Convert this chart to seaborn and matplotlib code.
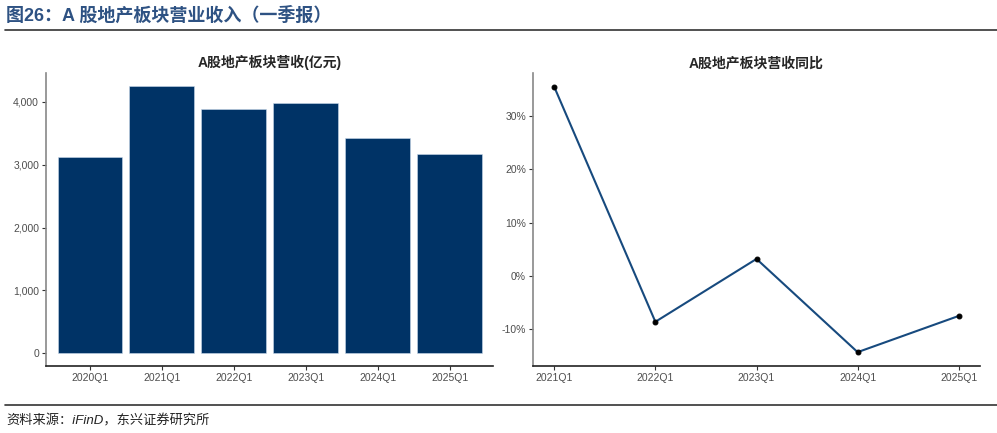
import matplotlib
matplotlib.use("Agg")
import matplotlib.pyplot as plt
import matplotlib.ticker as mticker
import seaborn as sns
import pandas as pd

# 数据
quarters = ["2020Q1", "2021Q1", "2022Q1", "2023Q1", "2024Q1", "2025Q1"]
revenue = [3123, 4255, 3883, 3990, 3426, 3171]  # 亿元
yoy_quarters = ["2021Q1", "2022Q1", "2023Q1", "2024Q1", "2025Q1"]
yoy = [35.5, -8.6, 3.2, -14.3, -7.5]  # %

sns.set_theme(style="white")
plt.rcParams['font.family'] = ['Liberation Sans', 'Noto Sans CJK SC', 'DejaVu Sans']
plt.rcParams['axes.unicode_minus'] = False

bar_color = "#003366"
line_color = "#174A7E"
tick_color = "#4D4D4D"

fig = plt.figure(figsize=(9.97, 4.33), dpi=100)

# 标题和分隔线
fig.text(0.006, 0.965, "图26：A 股地产板块营业收入（一季报）", fontsize=13, fontweight="bold",
         color="#2E5283", va="center", ha="left")
fig.add_artist(plt.Line2D([0.005, 1.0], [0.930, 0.930], color="#333333", lw=1.2))
fig.add_artist(plt.Line2D([0.005, 1.0], [0.064, 0.064], color="#333333", lw=1.2))
fig.text(0.006, 0.028, "资料来源：iFinD，东兴证券研究所", fontsize=9.5, style="italic",
         color="#222222", va="center", ha="left")

W, H = 997, 433
def box(x0, y0, x1, y1):
    return [x0 / W, 1 - y1 / H, (x1 - x0) / W, (y1 - y0) / H]

# 左图：柱状图
ax1 = fig.add_axes(box(46, 73, 493, 366))
df1 = pd.DataFrame({"q": quarters, "v": revenue})
sns.barplot(data=df1, x="q", y="v", color=bar_color, saturation=1, width=0.9,
            edgecolor="#C9D9EA", linewidth=0.4, ax=ax1)
ax1.set_xlim(-0.61, 5.6)
ax1.set_ylim(-207, 4462)
ax1.set_yticks([0, 1000, 2000, 3000, 4000])
ax1.yaxis.set_major_formatter(mticker.FuncFormatter(lambda v, p: f"{int(v):,}"))
ax1.set_title("A股地产板块营收(亿元)", fontsize=10, fontweight="bold", pad=4)

# 右图：同比折线
ax2 = fig.add_axes(box(533, 73, 980, 366))
df2 = pd.DataFrame({"q": yoy_quarters, "v": yoy})
sns.lineplot(data=df2, x="q", y="v", color=line_color, linewidth=1.5, marker="o",
             markersize=3.5, markerfacecolor="black", markeredgecolor="black", ax=ax2)
ax2.set_xlim(-0.21, 4.21)
ax2.set_ylim(-16.9, 38.1)
ax2.set_yticks([-10, 0, 10, 20, 30])
ax2.yaxis.set_major_formatter(mticker.FuncFormatter(lambda v, p: f"{int(v)}%"))
ax2.set_title("A股地产板块营收同比", fontsize=10, fontweight="bold", pad=4)

for ax in (ax1, ax2):
    ax.set_xlabel("")
    ax.set_ylabel("")
    sns.despine(ax=ax)
    ax.spines["left"].set_color("#888888")
    ax.spines["bottom"].set_color("#222222")
    ax.spines["left"].set_linewidth(1.2)
    ax.spines["bottom"].set_linewidth(1.2)
    ax.tick_params(axis="both", which="both", length=3, width=0.8, colors="#333333",
                   labelcolor=tick_color, labelsize=7.5, pad=2, left=True, bottom=True)

fig.savefig("out.png", dpi=100)
